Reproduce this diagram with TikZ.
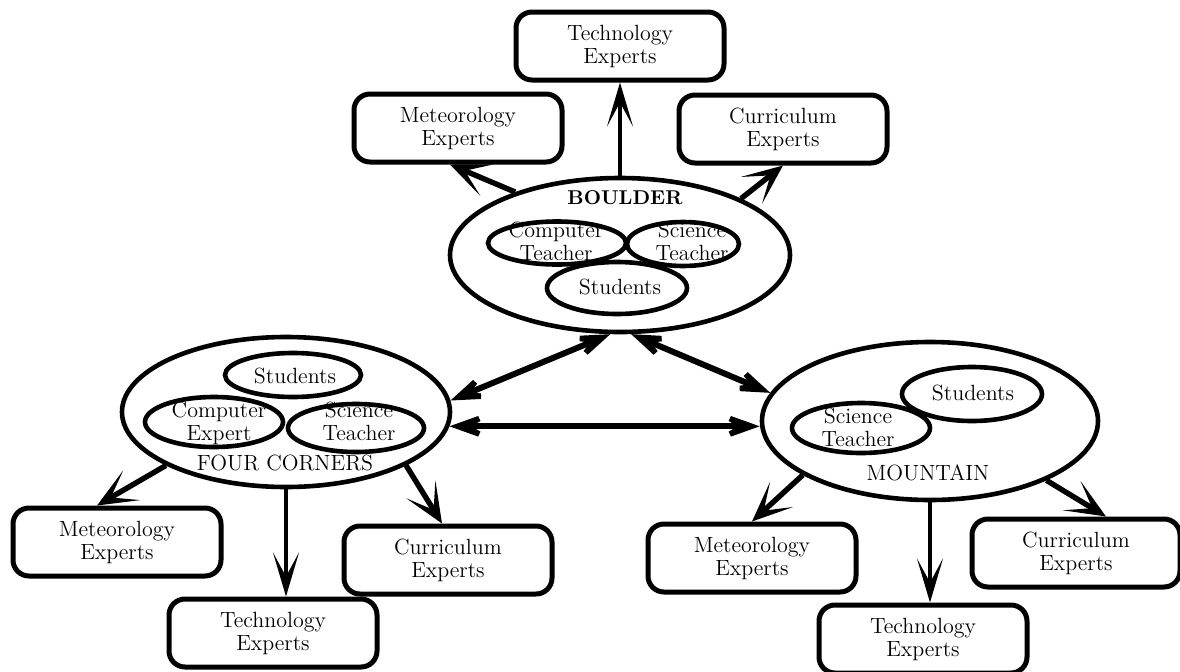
\documentclass[tikz,border=0pt]{standalone}
\usetikzlibrary{shapes.geometric,arrows.meta}
\begin{document}
\begin{tikzpicture}[x=0.5pt,y=-0.5pt,
  every node/.style={font=\fontsize{11}{11.5}\selectfont},
  outerell/.style={ellipse,draw,line width=2.3pt,inner sep=0pt},
  innerell/.style={ellipse,draw,line width=2.3pt,inner sep=0pt},
  txt/.style={align=center,inner sep=0pt},
  sitename/.style={inner sep=0pt,font=\fontsize{11}{12}\selectfont},
  expert/.style={rectangle,rounded corners=8pt,draw,line width=2.5pt,align=center,
    minimum width=104pt,minimum height=34pt,inner sep=0pt},
  exparrow/.style={line width=2.7pt,-{Stealth[length=20pt,width=17pt,inset=12pt]}},
  techarrow/.style={line width=2pt,-{Stealth[length=22pt,width=13pt,inset=12pt]}},
  dblarrow/.style={line width=3pt,{Stealth[length=28pt,width=20pt,inset=17pt]}-{Stealth[length=28pt,width=20pt,inset=17pt]}},
]
\path[use as bounding box,fill=white] (0,0) rectangle (1180,671);

% ---------- BOULDER ----------
\node[outerell,minimum width=170pt,minimum height=77pt] (boulder) at (620,255) {};
\node[sitename,font=\fontsize{10}{12}\selectfont\bfseries] (bname) at (625,198) {BOULDER};
\node[innerell,minimum width=69pt,minimum height=21.5pt] (bcte) at (557,243) {};
\node[txt] (bctt) at (556,241) {Computer\\Teacher};
\node[innerell,minimum width=56pt,minimum height=22pt] (bste) at (683,244) {};
\node[txt] (bstt) at (692,241) {Science\\Teacher};
\node[innerell,minimum width=70pt,minimum height=26pt] (bsue) at (617,288) {};
\node[txt] (bsut) at (620,287) {Students};

\node[expert] (btech) at (620,46) {Technology\\Experts};
\node[expert] (bmet) at (458,128) {Meteorology\\Experts};
\node[expert] (bcur) at (783,129) {Curriculum\\Experts};

% ---------- FOUR CORNERS ----------
\node[outerell,minimum width=164pt,minimum height=75pt] (fc) at (286,412) {};
\node[sitename] (fname) at (285,463) {FOUR CORNERS};
\node[innerell,minimum width=68pt,minimum height=22pt] (fsue) at (293,375) {};
\node[txt] (fsut) at (295,376) {Students};
\node[innerell,minimum width=69pt,minimum height=25pt] (fcee) at (214,422) {};
\node[txt] (fcet) at (219,423) {Computer\\Expert};
\node[innerell,minimum width=68pt,minimum height=24pt] (fste) at (356,428) {};
\node[txt] (fstt) at (359,421) {Science\\Teacher};

\node[expert] (fmet) at (117,542) {Meteorology\\Experts};
\node[expert] (ftech) at (273,633) {Technology\\Experts};
\node[expert] (fcur) at (448,560) {Curriculum\\Experts};

% ---------- MOUNTAIN ----------
\node[outerell,minimum width=168pt,minimum height=79pt] (mount) at (930,421) {};
\node[sitename] (mname) at (928,473) {MOUNTAIN};
\node[innerell,minimum width=70pt,minimum height=27pt] (msue) at (972,394) {};
\node[txt] (msut) at (973,393) {Students};
\node[innerell,minimum width=69pt,minimum height=25pt] (mste) at (861,428) {};
\node[txt] (mstt) at (858,427) {Science\\Teacher};

\node[expert] (mmet) at (752,558) {Meteorology\\Experts};
\node[expert] (mtech) at (923,639) {Technology\\Experts};
\node[expert] (mcur) at (1076,553) {Curriculum\\Experts};

% ---------- connectors ----------
\draw[techarrow] (boulder) -- (btech);
\draw[exparrow] (boulder.149) -- ([xshift=-4pt]bmet.south);
\draw[exparrow] (boulder.25) -- (bcur.south);

\draw[exparrow] (fc.204) -- ([xshift=-10pt]fmet.north);
\draw[techarrow] (fc.south) -- (fc.south |- ftech.north);
\draw[exparrow] (fc.-24) -- ([xshift=-3pt]fcur.north);

\draw[exparrow] (mount.203) -- (mmet.north);
\draw[techarrow] (mount.south) -- (mount.south |- mtech.north);
\draw[exparrow] (mount.-27) -- ([xshift=15pt]mcur.north);

\draw[dblarrow] (boulder.263) -- (fc.4);
\draw[dblarrow] (boulder.278) -- (mount.170);
\draw[dblarrow] (fc.-5) -- (mount.west |- fc.-5);
\end{tikzpicture}
\end{document}
